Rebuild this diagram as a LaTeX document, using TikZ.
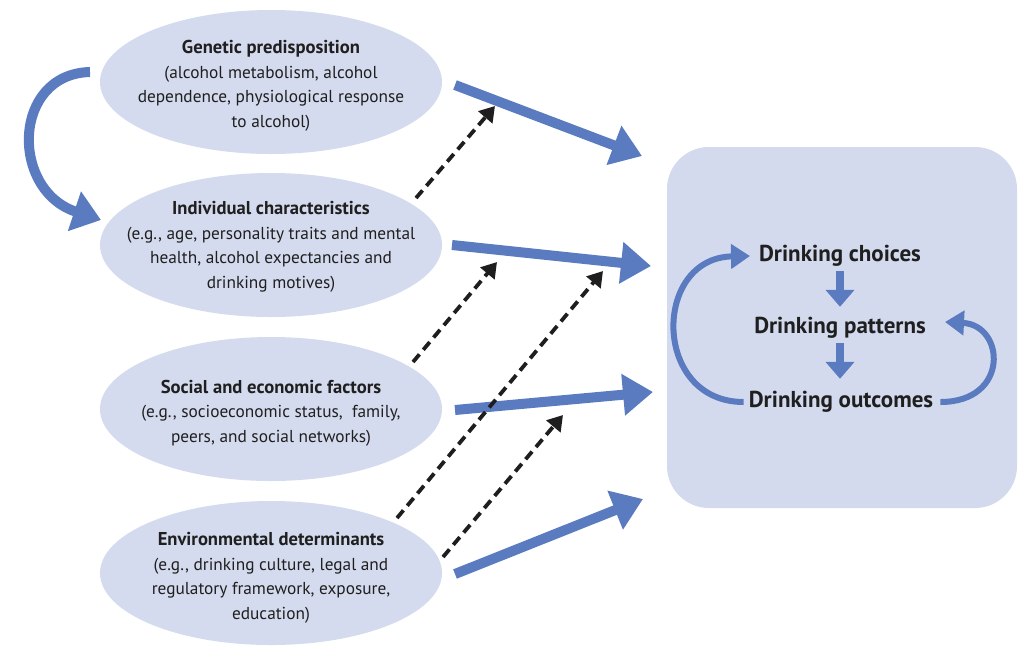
\documentclass[tikz,border=0pt]{standalone}
\usepackage{fontspec}
\setmainfont{PT Sans}
\usetikzlibrary{arrows.meta,shapes.geometric}
\definecolor{ellfill}{HTML}{D5DBEE}
\definecolor{boxfill}{HTML}{D3DAEE}
\definecolor{arrblue}{HTML}{5A7BBF}
\definecolor{dashblack}{HTML}{1E1E1E}
\tikzset{
  factor/.style={ellipse, fill=ellfill, minimum width=342pt, minimum height=144pt, inner sep=0pt},
  factortext/.style={align=center, inner sep=0pt, font=\fontsize{17.3}{24.5}\selectfont, text=black!88},
  bigarrow/.style={draw=arrblue, line width=10pt, -{Triangle[width=40pt,length=30pt]}},
  looparrow/.style={draw=arrblue, line width=6pt, -{Triangle[width=24pt,length=19pt]}},
  downarrow/.style={draw=arrblue, line width=8pt, -{Triangle[width=28pt,length=17pt]}},
  dasharrow/.style={draw=dashblack, line width=3.8pt, dash pattern=on 10pt off 6pt, -{Triangle[width=18pt,length=15pt]}},
  stage/.style={font=\bfseries\fontsize{23}{26}\selectfont, text=black!88, inner sep=1pt}
}
\newcommand{\ttl}[1]{{\bfseries\fontsize{18.6}{24.5}\selectfont #1}}
\begin{document}
\begin{tikzpicture}[x=1pt,y=-1pt]
\useasboundingbox (0,0) rectangle (1024,657);
\fill[white] (0,0) rectangle (1024,657);
% outcome box
\node[draw=none, fill=boxfill, rounded corners=42pt, minimum width=350pt, minimum height=361pt, inner sep=0pt] (box) at (842,327.5) {};
% factor ellipses
\node[factor] (gen) at (271,82) {};
\node[factor] (ind) at (271,245) {};
\node[factor] (soc) at (271,409) {};
\node[factor] (env) at (271,573) {};
\node[factortext] (gent) at ([yshift=-4pt]gen) {\ttl{Genetic predisposition}\\(alcohol metabolism, alcohol\\dependence, physiological response\\to alcohol)};
\node[factortext] (indt) at ([yshift=-2pt]ind) {\ttl{Individual characteristics}\\(e.g., age, personality traits and mental\\health, alcohol expectancies and\\drinking motives)};
\node[factortext] (soct) at ([yshift=-4pt]soc) {\ttl{Social and economic factors}\\(e.g., socioeconomic status,\ \ family,\\peers, and social networks)};
\node[factortext] (envt) at ([yshift=-5pt]env) {\ttl{Environmental determinants}\\(e.g., drinking culture, legal and\\regulatory framework, exposure,\\education)};
% stages
\node[stage] (cho) at (840,256) {Drinking choices};
\node[stage] (pat) at (840,328) {Drinking patterns};
\node[stage] (out) at (841,402) {Drinking outcomes};
% coordinates for arrows
\coordinate (g1) at (455,85);  \coordinate (g2) at (642,156);
\coordinate (i1) at (452,245); \coordinate (i2) at (651,266);
\coordinate (s1) at (455,410); \coordinate (s2) at (653,392);
\coordinate (e1) at (455,574); \coordinate (e2) at (643,499);
% thick arrows
\draw[bigarrow] (g1) -- (g2);
\draw[bigarrow] (i1) -- (i2);
\draw[bigarrow] (s1) -- (s2);
\draw[bigarrow] (e1) -- (e2);
% genetic -> individual curved arrow
\coordinate (c1) at (90,72);
\coordinate (c2) at (101,220);
\draw[bigarrow, -{Triangle[width=40pt,length=28pt]}] (c1) .. controls (12,74) and (10,190) .. (c2);
% dashed moderating arrows
\coordinate (da1) at (416,198); \coordinate (da2) at (495,106);
\coordinate (db1) at (413,362); \coordinate (db2) at (497,262);
\coordinate (dc1) at (397,518); \coordinate (dc2) at (603,271);
\coordinate (dd1) at (443,557); \coordinate (dd2) at (563,415);
\draw[dasharrow] (da1) -- (da2);
\draw[dasharrow] (db1) -- (db2);
\draw[dasharrow] (dc1) -- (dc2);
\draw[dasharrow] (dd1) -- (dd2);
% inner arrows
\draw[downarrow] (cho.south) ++(0,3) -- ++(0,36);
\draw[downarrow] (pat.south) ++(0,3) -- ++(0,36);
\draw[looparrow] (out.west) ++(-4,0) .. controls (652,402) and (652,258) .. (750,256);
\draw[looparrow] (out.east) ++(6,0) .. controls (1010,402) and (1005,325) .. (945,322);
\end{tikzpicture}
\end{document}
